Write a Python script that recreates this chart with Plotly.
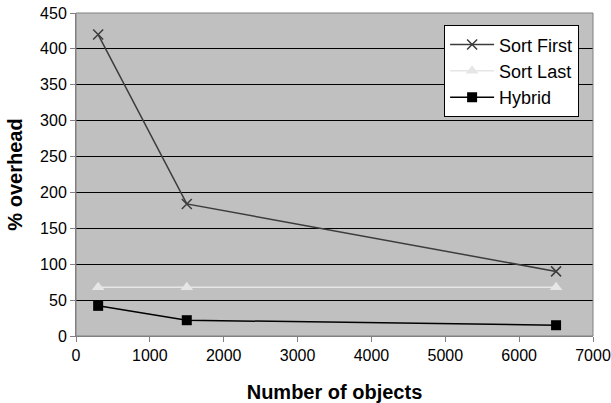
import plotly.graph_objects as go

x_objects = [300, 1500, 6500]
sort_first = [420, 184, 90]
sort_last = [68, 68, 68]
hybrid = [42, 22, 15]

fig = go.Figure()
fig.add_trace(go.Scatter(x=x_objects, y=sort_first, name="Sort First", mode="lines+markers",
                         line=dict(color="#3C3C3C", width=1.5),
                         marker=dict(symbol="x-thin", size=10, line=dict(color="#3C3C3C", width=1.5))))
fig.add_trace(go.Scatter(x=x_objects, y=sort_last, name="Sort Last", mode="lines+markers",
                         line=dict(color="#E6E6E6", width=1.5),
                         marker=dict(symbol="triangle-up", size=11, color="#E6E6E6")))
fig.add_trace(go.Scatter(x=x_objects, y=hybrid, name="Hybrid", mode="lines+markers",
                         line=dict(color="black", width=1.5),
                         marker=dict(symbol="square", size=10, color="black")))

fig.update_layout(
    width=611, height=403,
    margin=dict(l=76, r=18, t=13, b=67, autoexpand=False),
    plot_bgcolor="#C0C0C0", paper_bgcolor="white",
    font=dict(family="Liberation Sans, Arial", size=16, color="black"),
    legend=dict(x=0.712, y=0.962, xanchor="left", yanchor="top",
                bgcolor="white", bordercolor="black", borderwidth=1,
                font=dict(size=18), tracegroupgap=0, itemwidth=44),
    showlegend=True,
)
fig.update_xaxes(range=[0, 7000], dtick=1000, tickmode="linear", showgrid=False, zeroline=False,
                 showline=True, linecolor="#808080", ticks="outside", ticklen=5, tickcolor="#808080",
                 tickfont=dict(size=16), automargin=False,
                 title=dict(text="<b>Number of objects</b>", font=dict(size=20), standoff=21))
fig.update_yaxes(range=[0, 450], dtick=50, tickmode="linear", showgrid=True, gridcolor="black", gridwidth=1,
                 zeroline=False, showline=True, linecolor="#808080", ticks="outside", ticklen=5,
                 tickcolor="#808080", tickfont=dict(size=16), automargin=False,
                 title=dict(text="<b>% overhead</b>", font=dict(size=20), standoff=12))
fig.add_shape(type="rect", xref="paper", yref="paper", x0=0, y0=0, x1=1, y1=1,
              line=dict(color="#808080", width=1), fillcolor="rgba(0,0,0,0)")

fig.write_html("out.html")
